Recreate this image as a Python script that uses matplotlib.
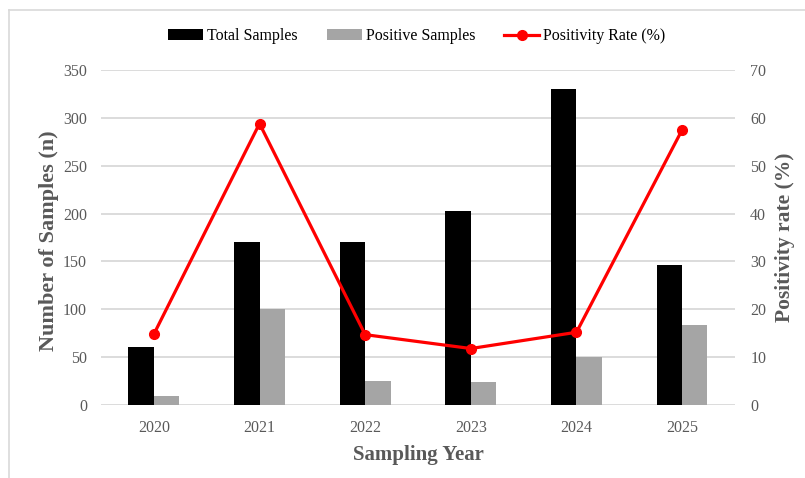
import matplotlib
matplotlib.use('Agg')
import matplotlib.pyplot as plt
from matplotlib.lines import Line2D
import numpy as np

years = ['2020', '2021', '2022', '2023', '2024', '2025']
total_samples = [61, 170, 170, 203, 330, 146]
positive_samples = [9, 100, 25, 24, 50, 84]
positivity_rate = [14.8, 58.8, 14.7, 11.8, 15.2, 57.5]

plt.rcParams['font.family'] = ['Liberation Serif', 'DejaVu Serif']
TXT = '#595959'
GRID = '#d9d9d9'

fig = plt.figure(figsize=(8.05, 4.78), dpi=100)
ax = fig.add_axes([0.1255, 0.1527, 0.7875, 0.7009])
ax2 = ax.twinx()

x = np.arange(len(years))
w = 0.24
b1 = ax.bar(x - w / 2, total_samples, w, color='black', label='Total Samples', zorder=2)
b2 = ax.bar(x + w / 2, positive_samples, w, color='#a5a5a5', label='Positive Samples', zorder=2)
ln, = ax2.plot(x, positivity_rate, color='red', lw=2.3, marker='o', ms=7,
               label='Positivity Rate (%)', zorder=3)

ax.set_xlim(-0.5, len(years) - 0.5)
ax.set_ylim(0, 350)
ax.set_yticks(range(0, 351, 50))
ax2.set_ylim(0, 70)
ax2.set_yticks(range(0, 71, 10))
ax.set_xticks(x)
ax.set_xticklabels(years)

ax.yaxis.grid(True, color=GRID, lw=1.3, zorder=0)
ax.set_axisbelow(True)
for a in (ax, ax2):
    for s in a.spines.values():
        s.set_visible(False)
    a.tick_params(length=0, labelsize=11.5, labelcolor=TXT)
ax.tick_params(axis='y', pad=10)
ax2.tick_params(axis='y', pad=11)
ax.tick_params(axis='x', pad=11)

ax.set_xlabel('Sampling Year', fontsize=15, fontweight='bold', color=TXT, labelpad=6)
ax.set_ylabel('Number of Samples (n)', fontsize=16, fontweight='bold', color=TXT)
ax.yaxis.set_label_coords(-0.066, 0.49)
ax2.set_ylabel('Positivity rate (%)', fontsize=15.5, fontweight='bold', color=TXT)
ax2.yaxis.set_label_coords(1.063, 0.5)

fig.legend([b1, b2, ln], ['Total Samples', 'Positive Samples', 'Positivity Rate (%)'],
           loc='center', bbox_to_anchor=(0.518, 0.924), ncol=3, frameon=False,
           fontsize=11.5, handlelength=2.2, handletextpad=0.25, columnspacing=1.8,
           handleheight=0.7)

# light frame along the top and left edges
fig.add_artist(Line2D([0.011, 0.011], [0, 0.979], color=GRID, lw=1.2))
fig.add_artist(Line2D([0.011, 1.0], [0.979, 0.979], color=GRID, lw=1.2))

fig.savefig('out.png', dpi=100)
